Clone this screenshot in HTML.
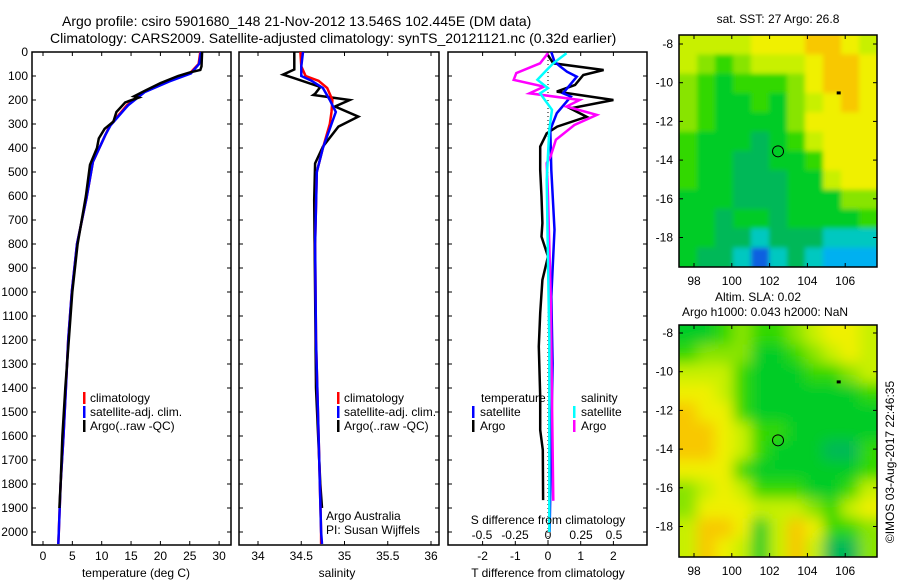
<!DOCTYPE html>
<html><head><meta charset="utf-8"><style>
body{margin:0;background:#fff;}
svg{display:block;font-family:"Liberation Sans",sans-serif;font-size:12px;}
</style></head><body>
<svg id="c" width="900" height="580" viewBox="0 0 900 580">
<defs>
<clipPath id="m1c"><rect x="679" y="35" width="198" height="232"/></clipPath>
<clipPath id="m2c"><rect x="679" y="325" width="198" height="232"/></clipPath>
<filter id="b1" x="-10%" y="-10%" width="120%" height="120%"><feGaussianBlur stdDeviation="2.5"/></filter>
<filter id="b2" x="-10%" y="-10%" width="120%" height="120%"><feGaussianBlur stdDeviation="7"/></filter>
</defs>
<text x="62" y="26" style="font-size:14px">Argo profile: csiro 5901680_148 21-Nov-2012 13.546S 102.445E (DM data)</text>
<text x="50" y="43" style="font-size:14px">Climatology: CARS2009. Satellite-adjusted climatology: synTS_20121121.nc (0.32d earlier)</text>
<g id="g"></g>
</svg>
<script>
// ---- data ----
const tArgoD=[0,60,75,85,100,130,160,185,190,210,250,290,320,360,400,470,600,800,1000,1200,1400,1600,1800,1900];
const tArgoV=[27.1,27.0,26.8,25,23,20,17.5,15.5,16.3,14,12.5,12,10.5,9.5,9.2,8,7.3,5.9,5.0,4.4,3.8,3.3,3.0,2.8];
const tClimD=[0,50,89,123,167,222,306,347,458,611,800,1000,1200,1400,1600,1800,2000,2050];
const tClimV=[26.8,26.5,25,21,17,14.3,11.4,10.6,8.5,7.4,5.8,4.9,4.3,3.9,3.5,3.0,2.7,2.6];
const tSatV=[26.9,26.6,25.2,21.5,17.3,14.5,11.5,10.6,8.5,7.4,5.8,4.9,4.3,3.9,3.5,3.0,2.7,2.6];
const sArgoD=[0,73,94,108,146,174,179,200,227,269,311,394,464,617,1000,1400,1800,1900];
const sArgoV=[34.42,34.42,34.29,34.41,34.72,34.66,34.64,35.06,34.89,35.16,34.93,34.75,34.66,34.65,34.66,34.67,34.72,34.74];
const sClimD=[0,60,100,120,150,200,250,300,400,500,800,1200,1600,2000,2050];
const sClimV=[34.49,34.5,34.55,34.7,34.8,34.86,34.85,34.83,34.75,34.68,34.66,34.67,34.7,34.73,34.73];
const sSatV=[34.52,34.5,34.5,34.62,34.75,34.83,34.9,34.85,34.75,34.68,34.66,34.67,34.7,34.73,34.74];
const dTArgoD=[5,47,75,96,137,165,200,235,270,311,339,394,491,602,713,769,852,950,1088,1227,1436,1575,1658,1867];
const dTArgoV=[-0.04,0.16,1.7,1.08,0.83,0.27,2.0,0.68,1.18,0.28,-0.04,-0.24,-0.24,-0.2,-0.17,-0.2,0,-0.17,-0.24,-0.28,-0.24,-0.24,-0.16,-0.15];
const dTSatD=[0,40,60,82,103,172,186,255,324,491,741,1019,1297,1600,2000];
const dTSatV=[0.1,0.2,0.37,0.58,0.88,0.46,0.7,0.27,0.07,0.1,0.2,0.1,0.14,0.1,0.05];
const dSSatD=[5,47,75,116,151,172,241,324,533,880,1200,1600,2000];
const dSSatV=[0.14,0.04,-0.01,-0.08,0,-0.06,0.03,0.01,-0.01,0,0.01,0.01,0.01];
const dSArgoD=[5,47,88,116,144,172,200,227,262,304,366,435,463,602,1000,1870];
const dSArgoV=[0,-0.06,-0.24,-0.26,-0.03,-0.14,0.24,0.14,0.37,0.2,0.06,0.02,-0.01,0,0.02,0.04];
const depthTicks=[0,100,200,300,400,500,600,700,800,900,1000,1100,1200,1300,1400,1500,1600,1700,1800,1900,2000];
const tTicks=[0,5,10,15,20,25,30];
const sTicks=[34,34.5,35,35.5,36];
const dTTicks=[-2,-1,0,1,2];
const dSTickLabels=["-0.5","-0.25","0","0.25","0.5"];
const dSTicks=[-0.5,-0.25,0,0.25,0.5];
const lonTicks=[98,100,102,104,106];
const latTicks=[-8,-10,-12,-14,-16,-18];
const sstGrid=[
[7,7,7,7,8,8,8,9,9,8,7],[7,6,5,6,7,7,7,8,9,9,8],[6,5,4,5,5,5,6,8,9,9,8],[6,5,4,4,5,4,6,7,8,9,8],
[6,5,4,4,4,4,6,8,8,8,8],[5,4,4,4,3,4,5,7,8,8,8],[5,4,4,3,3,4,4,5,8,8,8],[5,4,4,3,3,3,4,4,7,8,8],
[4,4,4,3,3,3,4,4,4,6,6],[4,4,3,4,4,3,4,4,4,4,5],[4,4,3,3,2,3,3,3,2,2,2],[4,3,3,2,0,2,3,2,1,1,1]];
const slaGrid=[
[4,4,5,6,5,5,6,7,8,8,7],[5,6,6,6,4,4,5,6,7,8,7],[7,7,7,5,4,4,4,5,5,6,7],[8,8,7,5,4,4,4,4,4,4,5],
[9,8,8,5,4,4,4,4,4,4,4],[9,9,8,7,5,5,4,4,4,4,4],[9,9,8,7,5,4,4,4,3,3,5],[8,8,8,5,4,4,4,4,4,4,5],
[6,7,8,7,5,5,5,4,4,5,7],[6,8,8,8,7,7,7,6,5,7,8],[7,9,9,8,4,7,9,8,5,5,6],[7,9,8,7,4,7,9,7,3,3,6]];
const palette=["#1060e0","#00b0f0","#00c8c0","#00b858","#00cc28","#30d800","#88e400","#c8f000","#f0f000","#f8c800","#f0a000"];
const argoLon=102.445, argoLat=-13.546;
// ---- drawing ----
const NS="http://www.w3.org/2000/svg";const G=document.getElementById('g');
function mk(t,a,p){const e=document.createElementNS(NS,t);for(const k in a)e.setAttribute(k,a[k]);(p||G).appendChild(e);return e;}
const yD=d=>52+d*0.24;
const xT=v=>43+v*5.87, xS=v=>258+(v-34)*86.5, xDT=v=>548+v*32.7, xDS=v=>548+v*132;
function line(ds,vs,xf,col,w,name){const pts=ds.map((d,i)=>xf(vs[i]).toFixed(1)+','+yD(d).toFixed(1)).join(' ');
 const e=mk('polyline',{points:pts,fill:'none',stroke:col,'stroke-width':w,'stroke-linejoin':'miter'});
 
 }
function frame(x0,x1,name){const r=mk('rect',{x:x0,y:52,width:x1-x0,height:493,fill:'none',stroke:'#000','stroke-width':1.5});
 
 
 depthTicks.forEach(d=>{mk('line',{x1:x0,x2:x0+4,y1:yD(d),y2:yD(d),stroke:'#000'});mk('line',{x1:x1,x2:x1-4,y1:yD(d),y2:yD(d),stroke:'#000'});});}
function xticks(vals,xf,labs,y,name){vals.forEach((v,i)=>{const x=xf(v);mk('line',{x1:x,x2:x,y1:52,y2:56,stroke:'#000'});mk('line',{x1:x,x2:x,y1:545,y2:541,stroke:'#000'});
 const t=mk('text',{x:x,y:y,'text-anchor':'middle'});t.textContent=labs[i];
 
 });}
function txt(x,y,s,name,anchor,extra){const t=mk('text',Object.assign({x:x,y:y,'text-anchor':anchor||'start'},extra||{}));t.textContent=s;
 
 return t;}
// panel 1
frame(32,231,'temperature-panel');
depthTicks.forEach(d=>{txt(28,yD(d)+4,String(d),'depth-tick-label','end');});
xticks(tTicks,xT,tTicks.map(String),560,'temperature-tick-label');
line(tClimD,tClimV,xT,'#f00',2.5,'temp-climatology-line');
line(tClimD,tSatV,xT,'#00f',2.5,'temp-satellite-line');
line(tArgoD,tArgoV,xT,'#000',2.5,'temp-argo-line');
txt(136,577,'temperature (deg C)','temperature-axis-title','middle');
// panel 2
frame(239,439,'salinity-panel');
xticks(sTicks,xS,sTicks.map(String),560,'salinity-tick-label');
line(sArgoD,sArgoV,xS,'#000',2.5,'sal-argo-line');
line(sClimD,sClimV,xS,'#f00',2.5,'sal-climatology-line');
line(sClimD,sSatV,xS,'#00f',2.5,'sal-satellite-line');
txt(337,577,'salinity','salinity-axis-title','middle');
txt(326,520,'Argo Australia','argo-australia-label');
txt(326,534,'PI: Susan Wijffels','pi-label');
function legend(x,y){[['#f00','climatology'],['#00f','satellite-adj. clim.'],['#000','Argo(..raw -QC)']].forEach((l,i)=>{
 mk('rect',{x:x,y:y+i*14-10,width:2.5,height:12,fill:l[0]});txt(x+7,y+i*14,l[1],'legend-entry');});}
legend(83,402);legend(337,402);
// panel 3
frame(448,647,'difference-panel');
dTTicks.forEach(v=>{const x=xDT(v);mk('line',{x1:x,x2:x,y1:52,y2:56,stroke:'#000'});mk('line',{x1:x,x2:x,y1:545,y2:541,stroke:'#000'});txt(x,560,String(v),'t-diff-tick-label','middle');});
dSTicks.forEach((v,i)=>txt(xDS(v),539,dSTickLabels[i],'s-diff-tick-label','middle'));
mk('line',{x1:548,x2:548,y1:52,y2:545,stroke:'#000','stroke-dasharray':'1,3'});
line(dTArgoD,dTArgoV,xDT,'#000',2.5,'t-diff-argo-line');
line(dTSatD,dTSatV,xDT,'#00f',2.5,'t-diff-satellite-line');
line(dSArgoD,dSArgoV,xDS,'#f0f',2.5,'s-diff-argo-line');
line(dSSatD,dSSatV,xDS,'#0ff',2.5,'s-diff-satellite-line');
txt(548,524,'S difference from climatology','s-diff-axis-title','middle');
txt(548,577,'T difference from climatology','t-diff-axis-title','middle');
txt(481,402,'temperature','legend-temperature-heading');txt(581,402,'salinity','legend-salinity-heading');
[['#00f','satellite',472],['#000','Argo',472],['#0ff','satellite',573],['#f0f','Argo',573]].forEach((l,i)=>{const y=416+(i%2)*14;
 mk('rect',{x:l[2],y:y-10,width:2.5,height:12,fill:l[0]});txt(l[2]+8,y,l[1],'legend-entry');});
// maps
const xL=v=>694+(v-98)*18.9;
function map(grid,top,lat8,clip,filt,name){const yL=v=>lat8+(-8-v)*19.35;
 const gg=mk('g',{'clip-path':'url(#'+clip+')'});
 const inner=mk('g',{filter:'url(#'+filt+')'},gg);
 const nr=grid.length, nc=grid[0].length, cw=198/nc, ch=232/nr;
 grid.forEach((row,r)=>row.forEach((c,k)=>{
  let x=679+k*cw, y=top+r*ch, w=cw+0.6, h=ch+0.6;
  if(k===0){x-=15;w+=15;} if(k===nc-1){w+=15;}
  if(r===0){y-=15;h+=15;} if(r===nr-1){h+=15;}
  const e=mk('rect',{x:x,y:y,width:w,height:h,fill:palette[c]},inner);
  
  }));
 const f=mk('rect',{x:679,y:top,width:198,height:232,fill:'none',stroke:'#000','stroke-width':1.5});
 
 
 lonTicks.forEach(v=>{const x=xL(v);mk('line',{x1:x,x2:x,y1:top,y2:top+4,stroke:'#000'});mk('line',{x1:x,x2:x,y1:top+232,y2:top+228,stroke:'#000'});txt(x,top+250,String(v),'lon-tick-label','middle');});
 latTicks.forEach(v=>{const y=yL(v);mk('line',{x1:679,x2:683,y1:y,y2:y,stroke:'#000'});mk('line',{x1:877,x2:873,y1:y,y2:y,stroke:'#000'});txt(673,y+4,String(v),'lat-tick-label','end');});
 const c=mk('circle',{cx:xL(argoLon),cy:yL(argoLat),r:5.5,fill:'none',stroke:'#000'});
 
 
 mk('rect',{x:xL(105.55),y:yL(-10.45),width:4,height:3,fill:'#000'});}
map(sstGrid,35,44,'m1c','b1','sst-map');
map(slaGrid,325,333,'m2c','b2','sla-map');
txt(778,23,'sat. SST: 27 Argo: 26.8','sst-map-title','middle');
txt(758,301,'Altim. SLA: 0.02','sla-map-title-1','middle');
txt(765,316,'Argo h1000: 0.043 h2000: NaN','sla-map-title-2','middle');
txt(0,0,'©IMOS 03-Aug-2017 22:46:35','timestamp-label','middle',{transform:'translate(894,462) rotate(-90)'});
</script>
</body></html>
